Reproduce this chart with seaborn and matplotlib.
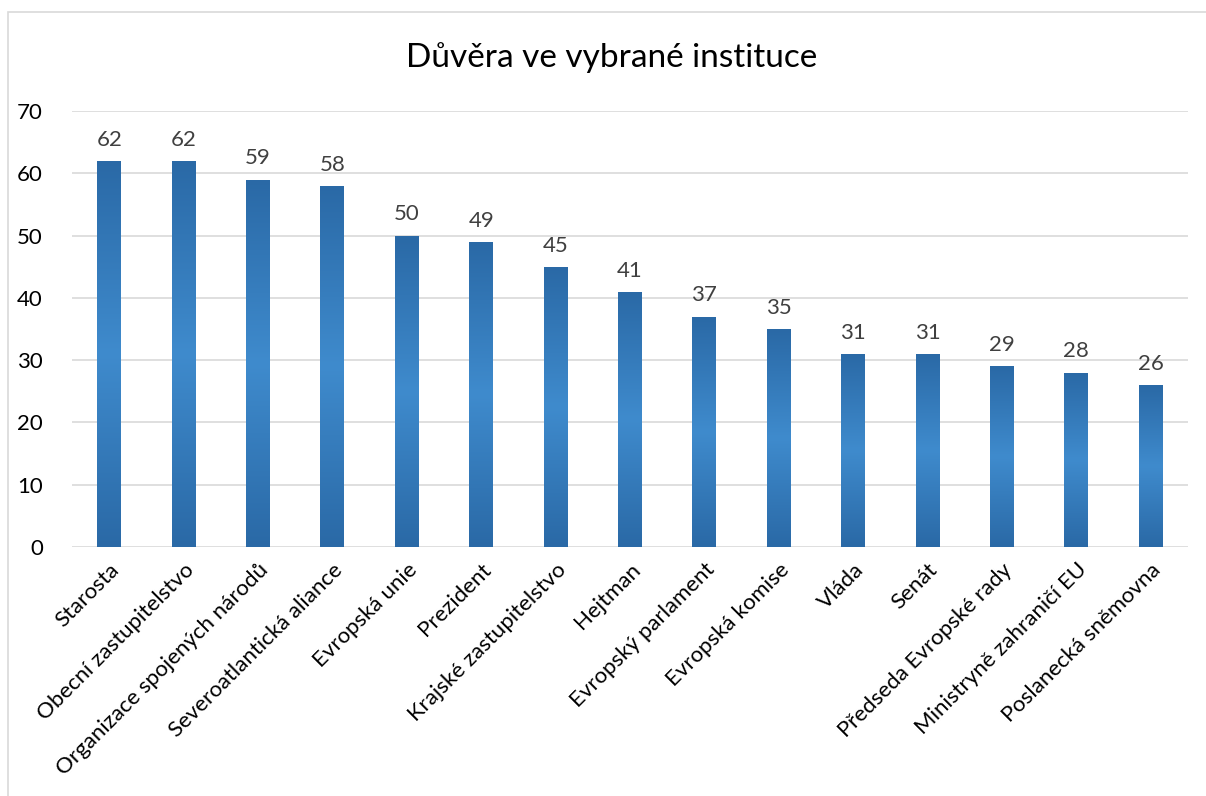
import numpy as np
import pandas as pd
import matplotlib
matplotlib.use("Agg")
import matplotlib.pyplot as plt
import seaborn as sns
from matplotlib.colors import LinearSegmentedColormap
from matplotlib.patches import Rectangle

categories = ["Starosta", "Obecní zastupitelstvo", "Organizace spojených národů",
              "Severoatlantická aliance", "Evropská unie", "Prezident",
              "Krajské zastupitelstvo", "Hejtman", "Evropský parlament",
              "Evropská komise", "Vláda", "Senát", "Předseda Evropské rady",
              "Ministryně zahraničí EU", "Poslanecká sněmovna"]
values = [62, 62, 59, 58, 50, 49, 45, 41, 37, 35, 31, 31, 29, 28, 26]
yticks = [0, 10, 20, 30, 40, 50, 60, 70]
title = "Důvěra ve vybrané instituce"

sns.set_theme(style="white")
FONT = ["Lato", "DejaVu Sans"]
plt.rcParams["font.family"] = FONT

df = pd.DataFrame({"inst": categories, "val": values})

fig = plt.figure(figsize=(12.06, 7.96), dpi=100)
ax = fig.add_axes([72/1206, 1-547/796, (1188-72)/1206, (547-111)/796])

sns.barplot(data=df, x="inst", y="val", ax=ax, color="#3A80C4", width=0.32,
            saturation=1, edgecolor="none")

ax.set_ylim(0, 70)
ax.set_xlim(-0.5, len(categories)-0.5)
ax.set_yticks(yticks)
ax.set_yticklabels([str(t) for t in yticks], fontsize=16, color="#000000")
ax.yaxis.grid(True, color="#D9D9D9", linewidth=1.2)
ax.set_axisbelow(True)
for s in ax.spines.values():
    s.set_visible(False)
ax.tick_params(axis="both", length=0)
ax.tick_params(axis="y", pad=21)
ax.set_xlabel("")
ax.set_ylabel("")
ax.set_xticks(range(len(categories)))
ax.set_xticklabels(categories, rotation=45, ha="right", rotation_mode="anchor",
                   fontsize=16, color="#000000")
ax.tick_params(axis="x", pad=9)

# gradient fill
cmap = LinearSegmentedColormap.from_list("g", ["#2A69A6", "#3F8BCD", "#2A69A6"])
grad = np.linspace(0, 1, 256).reshape(-1, 1)
for p in list(ax.patches):
    x0, w, h = p.get_x(), p.get_width(), p.get_height()
    im = ax.imshow(grad, cmap=cmap, aspect="auto", extent=[x0, x0+w, 0, h],
                   origin="lower", zorder=p.get_zorder()+0.1)
    im.set_clip_path(p)
ax.set_xlim(-0.5, len(categories)-0.5)
ax.set_ylim(0, 70)

for i, v in enumerate(values):
    ax.annotate(str(v), (i, v), xytext=(0, 8), textcoords="offset points",
                ha="center", va="bottom", fontsize=16, color="#404040")

fig.text(612/1206, 1-58/796, title, ha="center", va="center", fontsize=24, color="#000000")

fig.patches.append(Rectangle((8/1206, -0.1), 1.2, 1-12/796+0.1, transform=fig.transFigure,
                             fill=False, edgecolor="#D9D9D9", linewidth=1.2))

fig.savefig("out.png", dpi=100, facecolor="white")
